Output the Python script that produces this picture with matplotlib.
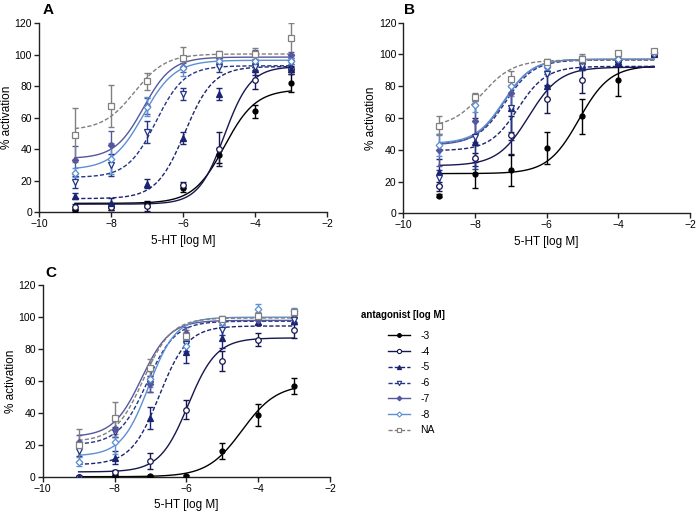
import numpy as np
import matplotlib
matplotlib.use("Agg")
import matplotlib.pyplot as plt
from matplotlib.lines import Line2D

plt.rcParams['font.family'] = ['Liberation Sans', 'DejaVu Sans']

# ---------------- data ----------------
log_5ht = [-9, -8, -7, -6, -5, -4, -3]
labels = ['-3', '-4', '-5', '-6', '-7', '-8', 'NA']

# Panel A: mean % activation per antagonist (rows in order of labels)
A_means = [
    [1, 3, 5, 15, 36, 64, 82],
    [3, 3, 3.5, 17, 40, 84, 91],
    [10, 6, 18, 47, 75, 91, 91],
    [19, 30, 51, 75, 92, 92, 95],
    [33, 42.5, 67.5, 92, 98, 100, 100],
    [25, 34, 67, 91.5, 96, 96, 96],
    [49, 67.5, 83, 98, 100.5, 100.5, 110.5],
]
A_errs = [
    [1, 2, 2, 2, 5, 4, 6],
    [2, 2, 3, 2, 11, 6, 2],
    [2, 3, 3, 4, 4, 4, 3],
    [4, 7, 7, 4, 3, 3, 3],
    [9, 9, 5, 3, 3, 3, 2],
    [3, 10, 6, 5, 3, 3, 2],
    [17, 13.5, 5.5, 7, 2, 3.5, 10],
]
# fitted curve parameters: bottom, top, logEC50, hill
A_fits = [
    [5.5, 78, -4.85, 1.0],
    [5, 92.5, -4.85, 1.2],
    [8.5, 92.5, -5.95, 1.1],
    [22, 93, -6.75, 1.1],
    [34, 98.5, -7.1, 1.1],
    [27, 96.5, -7.1, 1.0],
    [52, 100.5, -7.35, 1.0],
]

# Panel B
B_means = [
    [11, 25, 27, 41, 61, 84, 100],
    [17, 35, 49.5, 72, 84, 96, 100],
    [26, 45, 66, 80, 93, 95, 100],
    [22, 48, 66, 88, 93, 96, 100],
    [40, 58, 76, 92, 96, 97, 101],
    [43, 68, 80, 93, 97, 97, 101],
    [55, 73.5, 84.5, 95, 97, 101, 102],
]
B_errs = [
    [1, 9, 10, 10, 11, 10, 1],
    [3, 3, 12, 9, 8, 2, 1],
    [8, 15, 20, 8, 3, 2, 1],
    [5, 20, 15, 8, 3, 2, 1],
    [10, 13, 10, 4, 3, 2, 1],
    [7, 4, 6, 3, 2, 2, 1],
    [6, 2.5, 5, 2, 3, 1, 1],
]
B_fits = [
    [25, 93, -5.1, 1.0],
    [30, 92, -6.5, 1.0],
    [39.5, 92.5, -6.8, 1.1],
    [43.5, 96.5, -7.15, 1.1],
    [43, 97, -7.2, 1.1],
    [44, 97, -7.2, 1.1],
    [54, 96.5, -7.8, 1.0],
]

# Panel C
C_means = [
    [0, 0.5, 0.5, 0.5, 16, 38.5, 57],
    [0, 3, 10, 42, 72.5, 86, 92],
    [0, 12, 37, 78, 87, 97, 97.5],
    [16, 28, 58, 83, 92, 97.5, 98],
    [22, 30, 58, 90, 98, 98, 102],
    [9.5, 22, 61, 82, 97, 105, 104],
    [20, 37, 68, 88, 99, 101, 103],
]
C_errs = [
    [0.5, 0.5, 0.5, 0.5, 5, 7, 5],
    [0.5, 1.5, 5, 6, 6, 4, 5],
    [0.5, 4, 7, 7, 6, 2, 2],
    [3, 3, 5, 4, 3, 2, 2],
    [4, 5, 5, 4, 2, 2, 2],
    [3, 8, 5, 4, 2, 3, 2],
    [10, 10, 6, 4, 2, 2, 2],
]
C_fits = [
    [0, 58, -4.45, 0.9],
    [3, 87, -5.95, 1.1],
    [7.5, 94.5, -6.75, 1.1],
    [20, 97.5, -7.1, 1.1],
    [25, 98, -7.25, 1.1],
    [13, 100, -7.05, 1.15],
    [22, 99.5, -7.2, 1.1],
]

# ---------------- styles ----------------
colors = ['#000000', '#161650', '#1b2470', '#233585', '#56569e', '#5b90d4', '#808080']
lstyles = ['-', '-', (0, (3, 1.5)), (0, (3, 1.5)), '-', '-', (0, (3, 1.5))]
markers = ['o', 'o', '^', 'v', 'D', 'D', 's']
mfaces = ['#000000', 'white', '#1b2470', 'white', '#56569e', 'white', 'white']
msizes = [3.6, 4.0, 4.0, 4.2, 3.2, 3.4, 4.0]


def logistic(x, b, t, ec, h):
    return b + (t - b) / (1 + 10 ** ((ec - x) * h))


fig = plt.figure(figsize=(6.97, 5.19), dpi=100)
W, H = 697, 519


def make_ax(x0, x1, y0px, y120px):
    return fig.add_axes([x0 / W, (H - y0px) / H, (x1 - x0) / W, (y0px - y120px) / H])


axA = make_ax(39, 327, 212, 23.3)
axB = make_ax(403.3, 690, 213.3, 22.7)
axC = make_ax(42.7, 330, 476.7, 285.3)

xs = np.linspace(-9, -3, 300)

for ax, means, errs, fits, letter, lx, ly in [
    (axA, A_means, A_errs, A_fits, 'A', 43, 10),
    (axB, B_means, B_errs, B_fits, 'B', 404, 10),
    (axC, C_means, C_errs, C_fits, 'C', 45, 273),
]:
    for i in range(len(labels)):
        c = colors[i]
        ax.plot(xs, logistic(xs, *fits[i]), color=c, ls=lstyles[i], lw=1.0, zorder=2)
        ax.errorbar(log_5ht, means[i], yerr=errs[i], fmt='none', ecolor=c,
                    elinewidth=1.0, capsize=2.5, capthick=1.0, zorder=3)
        ax.plot(log_5ht, means[i], ls='none', marker=markers[i], ms=msizes[i],
                mfc=mfaces[i], mec=c, mew=0.9, zorder=4)
    ax.set_xlim(-10, -2)
    ax.set_ylim(0, 120)
    ax.set_xticks([-10, -8, -6, -4, -2])
    ax.set_yticks([0, 20, 40, 60, 80, 100, 120])
    for s in ['top', 'right']:
        ax.spines[s].set_visible(False)
    for s in ['left', 'bottom']:
        ax.spines[s].set_linewidth(1.0)
        ax.spines[s].set_color('#222222')
    ax.tick_params(direction='out', length=3.5, width=1.0, labelsize=7.5, pad=1.5, color='#222222')
    ax.set_xlabel('5-HT [log M]', fontsize=8.5, labelpad=4)
    ax.set_ylabel('% activation', fontsize=8.5, labelpad=1)
    fig.text(lx / W, 1 - ly / H, letter, fontsize=11, fontweight='bold',
             ha='left', va='center')

# legend
handles = [Line2D([], [], color=colors[i], ls=lstyles[i], lw=1.0, marker=markers[i],
                  ms=msizes[i] * 0.75, mfc=mfaces[i], mec=colors[i], mew=0.8)
           for i in range(len(labels))]
fig.text(361 / W, 1 - 315 / H, 'antagonist [log M]', fontsize=7, fontweight='bold',
         ha='left', va='center')
fig.legend(handles, labels, loc='upper left', bbox_to_anchor=(388 / W, 1 - 331 / H),
           frameon=False, fontsize=7.5, handlelength=2.1, handletextpad=1.0,
           labelspacing=0.55, borderpad=0, borderaxespad=0)

fig.savefig('out.png', dpi=100)
